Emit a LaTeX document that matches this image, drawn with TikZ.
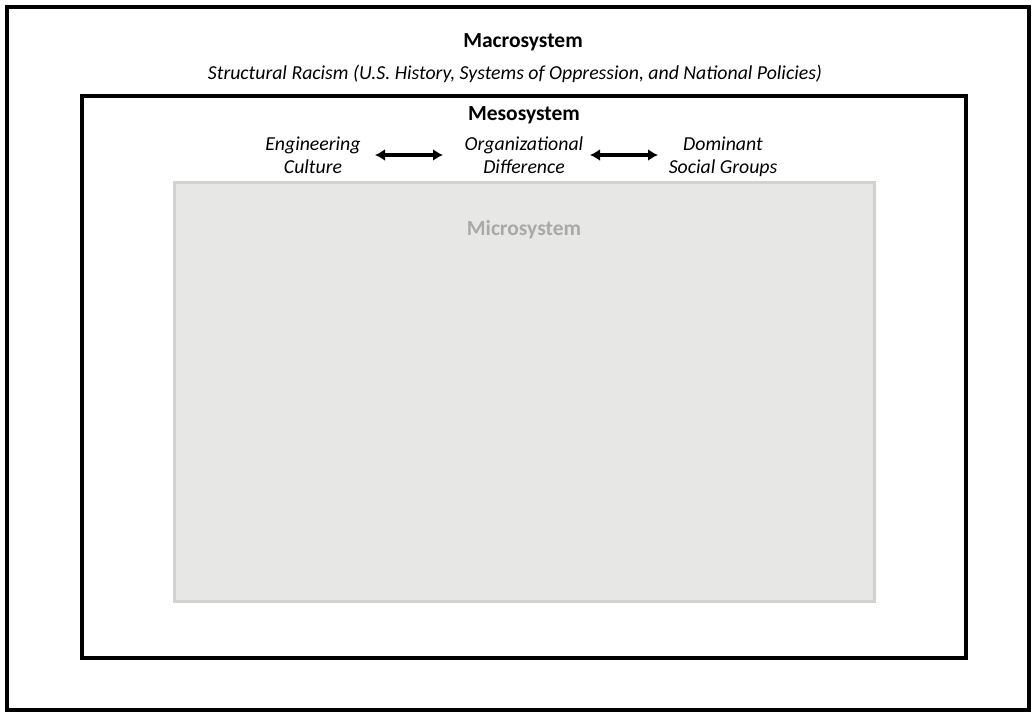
\documentclass[tikz,border=0pt]{standalone}
\usepackage{fontspec}
\setmainfont{Carlito}
\usetikzlibrary{arrows.meta}
\definecolor{microfill}{HTML}{E7E7E5}
\definecolor{microline}{HTML}{D2D2D0}
\definecolor{microtext}{HTML}{A9A9A9}
\tikzset{
  sysbox/.style={draw=black, line width=4pt},
  microbox/.style={draw=microline, fill=microfill, line width=3pt},
  title/.style={font=\fontsize{21.5}{24}\selectfont\bfseries, inner sep=0pt},
  sub/.style={font=\fontsize{19.8}{23}\selectfont\itshape, inner sep=0pt, align=center},
  dblarrow/.style={{Latex[length=10pt,width=12pt]}-{Latex[length=10pt,width=12pt]}, line width=3.2pt}
}
\begin{document}
\begin{tikzpicture}[x=1pt,y=-1pt]
\useasboundingbox (0,0) rectangle (1034,712);
\fill[white] (0,0) rectangle (1034,712);
\draw[sysbox] (7,6.5) rectangle (1029,709.5);
\draw[sysbox] (82,96) rectangle (966,658);
\draw[microbox] (174.5,182) rectangle (874.5,601.5);
\node[title] (macro) at (523,42) {Macrosystem};
\node[sub] (struct) at (515,74) {Structural Racism (U.S. History, Systems of Oppression, and National Policies)};
\node[title] (meso) at (524,115) {Mesosystem};
\node[sub] (eng) at (313,157) {\strut Engineering\\\strut Culture};
\node[sub] (org) at (524,157) {\strut Organizational\\\strut Difference};
\node[sub] (dom) at (723,157) {\strut Dominant\\\strut Social Groups};
\coordinate (a1) at (375,155);
\coordinate (a2) at (443,155);
\coordinate (b1) at (590,155);
\coordinate (b2) at (658,155);
\draw[dblarrow] (a1) -- (a2);
\draw[dblarrow] (b1) -- (b2);
\node[title, text=microtext] (micro) at (524,230) {Microsystem};
\end{tikzpicture}
\end{document}
